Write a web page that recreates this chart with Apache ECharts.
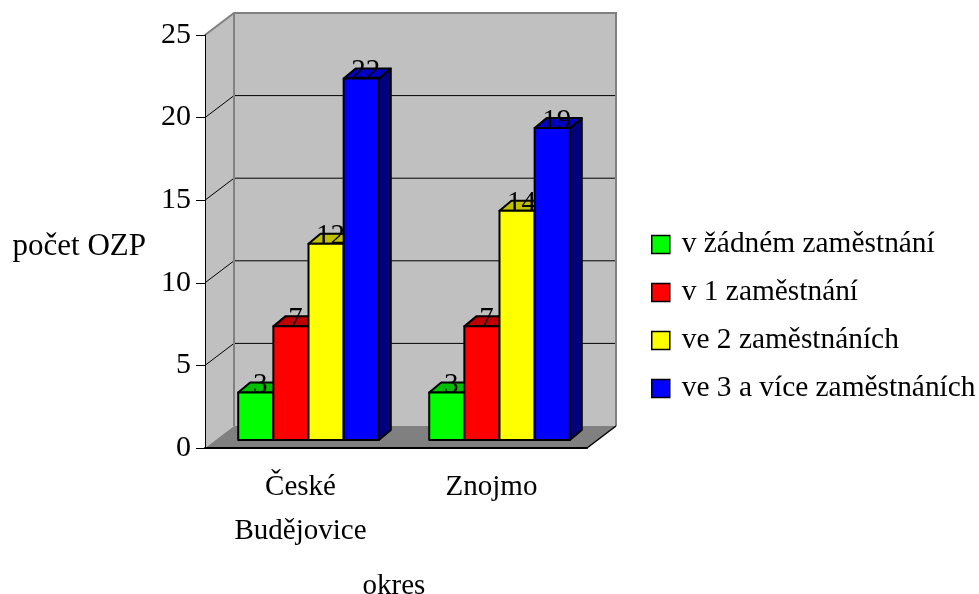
<!DOCTYPE html>
<html>
<head>
<meta charset="utf-8">
<style>
  html, body { margin: 0; padding: 0; background: #fff; }
  #chart { width: 979px; height: 594px; }
</style>
<script src="https://cdn.jsdelivr.net/npm/echarts@6/dist/echarts.min.js"></script>
</head>
<body>
<div id="chart"></div>
<script>
var categories = ["České\nBudějovice", "Znojmo"];
var seriesNames = ["v žádném zaměstnání", "v 1 zaměstnání", "ve 2 zaměstnáních", "ve 3 a více zaměstnáních"];
var zadne = [3, 3];
var jedno = [7, 7];
var dve = [12, 14];
var triPlus = [22, 19];
var yTicks = [0, 5, 10, 15, 20, 25];

var seriesValues = [zadne, jedno, dve, triPlus];
var frontColors = ["#00ff00", "#ff0000", "#ffff00", "#0000ff"];
var topColors = ["#00c000", "#c00000", "#c0c000", "#0000c0"];
var sideColors = ["#008000", "#800000", "#808000", "#000080"];

var FONT = '"Liberation Serif", "Times New Roman", serif';
// hloubka 3D: posun zadni steny a sloupcu v pixelech
var WALL_DX = 29, WALL_DY = 22;
var BAR_DX = 12, BAR_DY = 10;
var BAR_SHIFT_X = 8, BAR_SHIFT_Y = 8;
var BAR_TOP_TRIM = 2;
var BAR_RATIO = 0.184;

function renderWalls(params, api) {
  var g = params.coordSys;
  var x0 = g.x, x1 = g.x + g.width;
  var yb = g.y + g.height, yt = g.y;
  var children = [
    { type: "polygon", shape: { points: [[x0, yb], [x0 + WALL_DX, yb - WALL_DY], [x0 + WALL_DX, yt - WALL_DY], [x0, yt]] },
      style: { fill: "#c0c0c0" } },
    { type: "rect", shape: { x: x0 + WALL_DX, y: yt - WALL_DY, width: g.width, height: g.height },
      style: { fill: "#c0c0c0" } },
    { type: "polygon", shape: { points: [[x0, yb], [x1, yb], [x1 + WALL_DX, yb - WALL_DY], [x0 + WALL_DX, yb - WALL_DY]] },
      style: { fill: "#808080" } }
  ];
  yTicks.forEach(function (t) {
    if (t === 0 || t === 25) return;
    var y = api.coord([0, t])[1];
    children.push({ type: "polyline", shape: { points: [[x0, y], [x0 + WALL_DX, y - WALL_DY], [x1 + WALL_DX, y - WALL_DY]] },
      style: { fill: null, stroke: "#000", lineWidth: 1 } });
  });
  // sede okraje steny
  children.push({ type: "polyline", shape: { points: [[x0, yt], [x0 + WALL_DX, yt - WALL_DY], [x1 + WALL_DX, yt - WALL_DY], [x1 + WALL_DX, yb - WALL_DY]] },
    style: { fill: null, stroke: "#808080", lineWidth: 2 } });
  children.push({ type: "line", shape: { x1: x0 + WALL_DX, y1: yt - WALL_DY, x2: x0 + WALL_DX, y2: yb - WALL_DY },
    style: { stroke: "#808080", lineWidth: 2 } });
  children.push({ type: "line", shape: { x1: x1, y1: yb, x2: x1 + WALL_DX, y2: yb - WALL_DY },
    style: { stroke: "#000", lineWidth: 1.5 } });
  return { type: "group", children: children };
}

function makeBarRender(idx) {
  return function (params, api) {
    var band = api.size([1, 0])[0];
    var w = band * BAR_RATIO;
    var top = api.coord([api.value(0), api.value(1)]);
    var base = api.coord([api.value(0), 0]);
    var l = top[0] + (idx - 2) * w + BAR_SHIFT_X;
    var r = l + w;
    var t = top[1] - BAR_SHIFT_Y + BAR_TOP_TRIM;
    var b = base[1] - BAR_SHIFT_Y;
    var line = { stroke: "#000", lineWidth: 2, lineJoin: "round" };
    return { type: "group", children: [
      { type: "polygon", shape: { points: [[r, t], [r + BAR_DX, t - BAR_DY], [r + BAR_DX, b - BAR_DY], [r, b]] },
        style: Object.assign({ fill: sideColors[idx] }, line) },
      { type: "polygon", shape: { points: [[l, t], [l + BAR_DX, t - BAR_DY], [r + BAR_DX, t - BAR_DY], [r, t]] },
        style: Object.assign({ fill: topColors[idx] }, line) },
      { type: "text", style: { text: String(api.value(1)), x: (l + r) / 2 + 4.5, y: t - 7, align: "center", verticalAlign: "middle",
        fill: "#000", font: '29px ' + FONT } },
      { type: "rect", shape: { x: l, y: t, width: w, height: b - t },
        style: Object.assign({ fill: frontColors[idx] }, line) }
    ] };
  };
}

var series = [{
  type: "custom",
  name: "steny",
  silent: true,
  z: 1,
  renderItem: renderWalls,
  data: [[0, 0]],
  encode: { x: 0, y: 1 }
}];
seriesNames.forEach(function (name, i) {
  series.push({
    type: "custom",
    name: name,
    z: 2 + i,
    itemStyle: { color: frontColors[i] },
    renderItem: makeBarRender(i),
    encode: { x: 0, y: 1 },
    data: seriesValues[i].map(function (v, c) { return [c, v]; })
  });
});

var chart = echarts.init(document.getElementById("chart"));
chart.setOption({
  animation: false,
  backgroundColor: "#fff",
  grid: { left: 205, right: 392, top: 35, bottom: 146, outerBoundsMode: "none" },
  legend: {
    data: seriesNames,
    orient: "vertical",
    left: 646,
    top: 225,
    itemWidth: 18,
    itemHeight: 18,
    itemGap: 19,
    icon: "rect",
    itemStyle: { borderColor: "#000", borderWidth: 1.5 },
    textStyle: { fontFamily: FONT, fontSize: 29.4, color: "#000", padding: [0, 0, 0, 7] }
  },
  xAxis: {
    type: "category",
    data: categories,
    z: 8,
    name: "okres",
    nameLocation: "middle",
    nameGap: 124,
    nameTextStyle: { fontFamily: FONT, fontSize: 29, color: "#000", padding: [0, 4, 0, 0] },
    axisLine: { lineStyle: { color: "#000", width: 2 } },
    axisTick: { length: 9, lineStyle: { color: "#000", width: 1 } },
    axisLabel: { fontFamily: FONT, fontSize: 29, color: "#000", lineHeight: 44, margin: 17 }
  },
  yAxis: {
    type: "value",
    min: 0,
    max: 25,
    interval: 5,
    z: 8,
    name: "počet OZP",
    nameLocation: "middle",
    nameRotate: 0,
    nameGap: 59,
    nameTextStyle: { fontFamily: FONT, fontSize: 31, color: "#000", verticalAlign: "top", lineHeight: 10 },
    axisLine: { show: true, lineStyle: { color: "#000", width: 1 } },
    axisTick: { show: true, length: 9, lineStyle: { color: "#000", width: 1 } },
    axisLabel: { fontFamily: FONT, fontSize: 30, color: "#000", margin: 14, padding: [2, 0, 0, 0] },
    splitLine: { show: false }
  },
  series: series
});
</script>
</body>
</html>
